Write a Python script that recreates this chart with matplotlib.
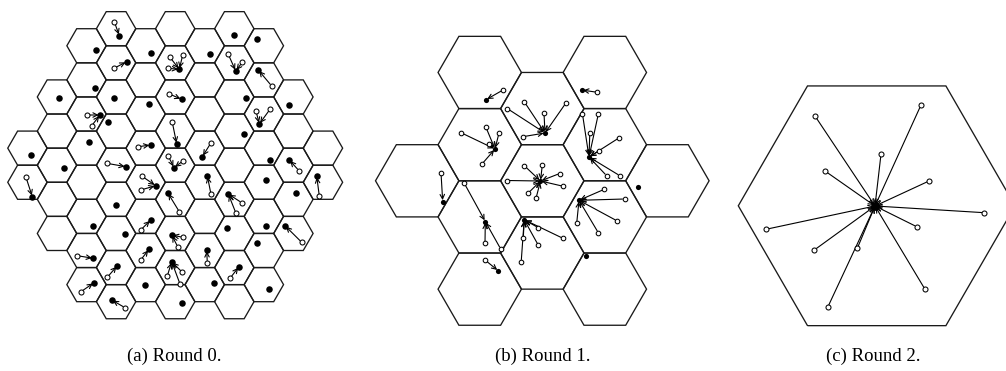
import numpy as np
import matplotlib
matplotlib.use("Agg")
import matplotlib.pyplot as plt
from matplotlib.patches import RegularPolygon

# ---- grid structure (columns of flat-top hex cells, m = half-row index) ----
A_COLS = [-5, -4, -3, -2, -1, 0, 1, 2, 3, 4, 5]
A_MMAX = [1, 4, 7, 8, 7, 8, 7, 8, 7, 4, 1]
B_COLS = [-2, -1, 0, 1, 2]
B_MMAX = [0, 3, 2, 3, 0]

# ---- round 0: cluster heads and members (member -> head index) ----
A_HEAD_X = [119.3, 234.3, 256.7, 96.0, 150.7, 210.0, 126.7, 179.3, 235.7, 258.3,
            95.0, 59.0, 114.3, 181.7, 245.7, 289.0, 149.0, 100.0, 108.3, 259.3,
            30.7, 32.3, 316.7, 64.0, 89.3, 93.3, 93.3, 94.0, 126.0, 116.0,
            125.0, 117.3, 111.7, 150.7, 155.7, 150.7, 149.0, 145.0, 176.7, 174.0,
            167.7, 171.7, 171.7, 182.3, 202.3, 207.3, 206.7, 214.3, 244.0, 228.3,
            226.7, 239.0, 270.0, 265.7, 265.7, 257.3, 269.3, 289.3, 295.7, 285.0]
A_HEAD_Y = [35.7, 35.0, 39.0, 50.0, 52.7, 54.3, 61.7, 69.3, 71.0, 70.0,
            88.3, 98.3, 98.3, 99.3, 98.3, 105.0, 104.3, 115.0, 121.7, 124.0,
            155.0, 196.7, 176.0, 168.3, 142.3, 226.0, 258.3, 282.7, 166.7, 205.0,
            234.3, 265.7, 300.0, 145.0, 185.7, 220.0, 249.3, 285.0, 144.0, 167.7,
            192.7, 235.0, 261.7, 303.3, 156.7, 175.7, 250.0, 283.3, 134.0, 194.0,
            228.3, 266.7, 160.0, 180.0, 226.0, 242.7, 289.3, 160.0, 193.3, 225.7]
A_MEM_X = [114.3, 114.0, 170.0, 182.7, 167.7, 228.3, 242.3, 271.7, 169.3, 86.7,
           91.7, 256.0, 270.0, 319.3, 26.0, 77.3, 81.0, 106.7, 107.3, 125.0,
           138.3, 141.7, 140.7, 140.7, 140.7, 172.3, 168.3, 183.3, 179.3, 182.7,
           177.7, 167.3, 182.3, 180.0, 210.7, 211.0, 207.3, 241.7, 236.0, 230.0,
           299.0, 301.7]
A_MEM_Y = [21.7, 68.3, 57.3, 55.0, 68.3, 54.3, 62.3, 86.0, 94.0, 115.0,
           125.7, 111.0, 109.3, 196.0, 177.3, 255.7, 291.7, 163.3, 277.3, 307.7,
           146.7, 176.0, 190.0, 230.0, 260.0, 122.3, 156.0, 160.7, 211.7, 237.3,
           246.7, 276.0, 272.3, 284.0, 143.3, 194.3, 262.7, 202.7, 213.3, 278.3,
           170.7, 242.3]
A_MEM_HEAD = [0, 6, 7, 7, 7, 8, 8, 9, 13, 17,
              17, 19, 19, 22, 21, 26, 27, 28, 31, 32,
              33, 34, 34, 35, 36, 38, 39, 39, 40, 41,
              41, 42, 42, 42, 44, 45, 46, 49, 49, 51,
              57, 59]

# ---- round 1 ----
B_HEAD_X = [486.0, 545.0, 495.0, 581.7, 589.0, 540.5, 485.3, 442.7, 498.3, 524.2,
            579.0, 638.3, 585.7]
B_HEAD_Y = [99.7, 133.0, 149.0, 90.0, 157.0, 181.0, 221.5, 201.5, 270.8, 219.7,
            200.3, 186.7, 256.0]
B_MEM_X = [503.0,
           524.3, 544.0, 565.7, 507.2, 522.8,
           461.0, 485.7, 499.0, 489.3, 482.0,
           597.3,
           582.5, 598.3, 589.8, 619.3, 599.2, 606.7, 620.0,
           524.3, 542.3, 559.7, 563.3, 528.0, 536.0, 507.2,
           485.0, 464.3, 500.7,
           441.0,
           485.0,
           538.3, 562.9, 523.3, 538.3, 521.2,
           604.3, 624.6, 617.3, 598.3, 576.7]
B_MEM_Y = [90.0,
           101.8, 113.3, 103.3, 108.5, 136.7,
           132.7, 126.7, 133.0, 144.3, 164.0,
           92.3,
           114.2, 114.2, 133.3, 137.7, 150.8, 175.8, 175.8,
           165.7, 165.0, 173.5, 186.3, 193.3, 198.3, 180.5,
           243.3, 183.3, 249.0,
           172.7,
           260.0,
           227.7, 238.3, 237.7, 245.2, 261.8,
           189.3, 199.0, 221.0, 232.7, 223.3]
B_MEM_HEAD = [0, 1, 1, 1, 1, 1, 2, 2, 2, 2, 2, 3, 4, 4, 4, 4, 4, 4, 4,
              5, 5, 5, 5, 5, 5, 5, 6, 6, 6, 7, 8, 9, 9, 9, 9, 9,
              10, 10, 10, 10, 10]

# ---- round 2 ----
C_HEAD_X = [875.0]
C_HEAD_Y = [206.0]
C_MEM_X = [815.0, 921.0, 881.0, 825.0, 929.0, 984.3, 766.0, 916.7, 814.3, 857.3, 925.0, 827.7]
C_MEM_Y = [116.0, 105.0, 154.3, 171.0, 181.0, 212.7, 229.3, 226.7, 250.0, 248.3, 289.3, 307.3]
C_MEM_HEAD = [0] * 12

CAPTIONS = ["(a) Round 0.", "(b) Round 1.", "(c) Round 2."]


def draw_cells(ax, cols, mmax, cx, cy, s):
    h2 = np.sqrt(3) * s / 2
    for q, mm in zip(cols, mmax):
        for m in range(-mm, mm + 1, 2):
            ax.add_patch(RegularPolygon((cx + 1.5 * s * q, cy + h2 * m), 6, radius=s,
                                        orientation=np.pi / 6, fill=False,
                                        ec="#1a1a1a", lw=0.95, zorder=1))


def draw_round(ax, hx, hy, mx, my, mh, head_size, mem_size):
    for x, y, k in zip(mx, my, mh):
        ax.annotate("", xy=(hx[k], hy[k]), xytext=(x, y),
                    arrowprops=dict(arrowstyle="->", lw=0.8, color="black",
                                    shrinkA=1.6, shrinkB=1.0, mutation_scale=8),
                    zorder=2)
    ax.scatter(mx, my, s=mem_size, facecolor="white", edgecolor="black",
               linewidth=0.75, zorder=3)
    ax.scatter(hx, hy, s=head_size, color="black", linewidth=0, zorder=4)


fig = plt.figure(figsize=(10.06, 3.71), dpi=100)
ax = fig.add_axes([0, 0, 1, 1])
ax.set_xlim(0, 1006)
ax.set_ylim(371, 0)
ax.axis("off")

draw_cells(ax, A_COLS, A_MMAX, 175.2, 165.2, 19.7)
draw_cells(ax, B_COLS, B_MMAX, 542.3, 180.8, 41.7)
draw_cells(ax, [0], [0], 876.7, 205.8, 138.4)

draw_round(ax, A_HEAD_X, A_HEAD_Y, A_MEM_X, A_MEM_Y, A_MEM_HEAD, 22, 13)
draw_round(ax, B_HEAD_X, B_HEAD_Y, B_MEM_X, B_MEM_Y, B_MEM_HEAD, 14, 11)
draw_round(ax, C_HEAD_X, C_HEAD_Y, C_MEM_X, C_MEM_Y, C_MEM_HEAD, 40, 13)

for x, t in zip([174, 543, 873], CAPTIONS):
    ax.text(x, 356, t, ha="center", va="center", fontsize=13.5,
            family="Liberation Serif")

fig.savefig("out.png", dpi=100)
